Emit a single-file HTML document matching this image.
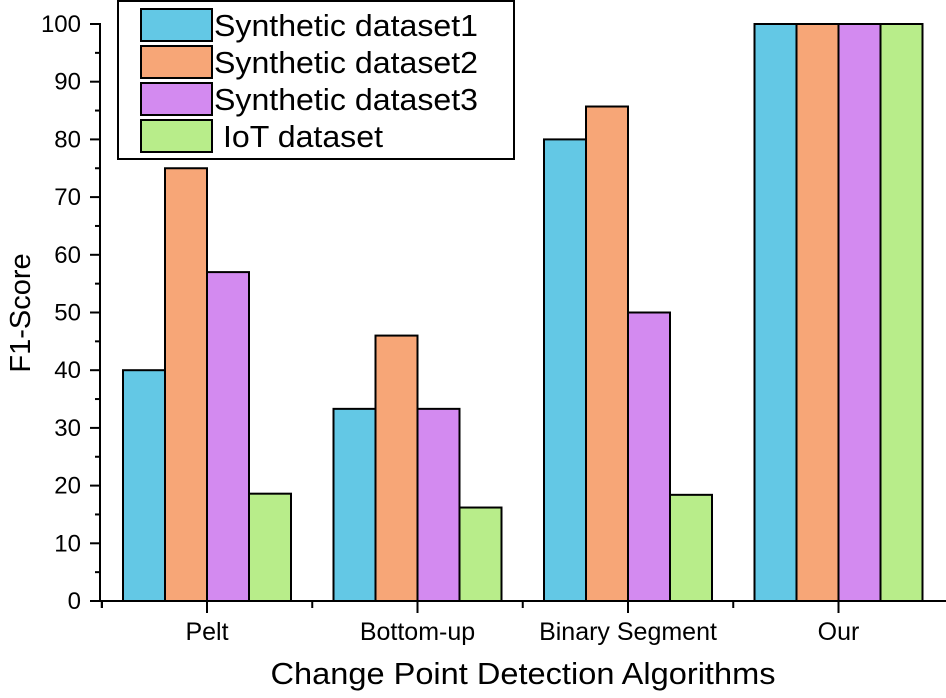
<!DOCTYPE html>
<html><head><meta charset="utf-8"><style>
body{margin:0;background:#fff}
svg text{font-family:"Liberation Sans",Arial,sans-serif !important;fill:#000}
</style></head><body>
<svg id="c" width="946" height="693" font-family="Liberation Sans, Arial, sans-serif"></svg>
<script>
const categories=["Pelt","Bottom-up","Binary Segment","Our"];
const seriesNames=["Synthetic dataset1","Synthetic dataset2","Synthetic dataset3","IoT dataset"];
const ds1=[40,33.3,80,100];
const ds2=[75,46,85.7,100];
const ds3=[57,33.3,50,100];
const iot=[18.6,16.2,18.4,100];
const yTicks=[0,10,20,30,40,50,60,70,80,90,100];
const series=[ds1,ds2,ds3,iot];
const colors=["#63c8e5","#f7a677","#d38af0","#b8ed8a"];
const svg=document.getElementById('c');const NS="http://www.w3.org/2000/svg";
function mk(t,a,p){const e=document.createElementNS(NS,t);for(const k in a)e.setAttribute(k,a[k]);if(t==='text')e.setAttribute('font-family','Liberation Sans, Arial, sans-serif');(p||svg).appendChild(e);return e;}
const y0=601,y100=24,xL=100,gap=210.5,c0=207,bw=42;
const Y=v=>y0-(v/100)*(y0-y100);
const X=i=>c0+i*gap;
series.forEach((s,si)=>s.forEach((v,ci)=>{
 const r=mk('rect',{x:X(ci)-2*bw+si*bw,y:Y(v),width:bw,height:y0-Y(v),fill:colors[si],stroke:'#000','stroke-width':2});
 
 
}));
const ya=mk('line',{x1:xL,y1:y0+1,x2:xL,y2:y100-1,stroke:'#000','stroke-width':2});

yTicks.forEach(v=>{
 mk('line',{x1:xL-10,y1:Y(v),x2:xL,y2:Y(v),stroke:'#000','stroke-width':2});
 if(v<100)mk('line',{x1:xL-5,y1:Y(v+5),x2:xL,y2:Y(v+5),stroke:'#000','stroke-width':2});
 const t=mk('text',{x:xL-19,y:Y(v)+8,'text-anchor':'end','font-size':24});t.textContent=v;
 
});
const xa=mk('line',{x1:xL-1,y1:y0,x2:946,y2:y0,stroke:'#000','stroke-width':2});

categories.forEach((c,i)=>{
 mk('line',{x1:X(i),y1:y0,x2:X(i),y2:y0+12,stroke:'#000','stroke-width':2});
 mk('line',{x1:X(i)-gap/2,y1:y0,x2:X(i)-gap/2,y2:y0+7,stroke:'#000','stroke-width':2});
 const t=mk('text',{x:X(i),y:640,'text-anchor':'middle','font-size':25});t.textContent=c;
 
});
mk('line',{x1:xL+2,y1:y0,x2:xL+2,y2:y0+7,stroke:'#000','stroke-width':2});
const xt=mk('text',{x:523,y:684,'text-anchor':'middle','font-size':31,textLength:505,lengthAdjust:'spacingAndGlyphs'});xt.textContent="Change Point Detection Algorithms";

const yt=mk('text',{x:30,y:313,'text-anchor':'middle','font-size':29,transform:'rotate(-90 30 313)'});yt.textContent="F1-Score";

const lg=mk('g',{});
mk('rect',{x:118,y:1,width:396,height:158,fill:'#fff',stroke:'#000','stroke-width':2},lg);
seriesNames.forEach((n,i)=>{
 const yy=8+i*37;
 const sw=mk('rect',{x:141,y:yy+1,width:71,height:32,fill:colors[i],stroke:'#000','stroke-width':2},lg);
 
 const t=mk('text',{x:i==3?223:214,y:yy+28,'font-size':31,textLength:i==3?160:264,lengthAdjust:'spacingAndGlyphs'},lg);t.textContent=n;
 
});
</script>
</body></html>
